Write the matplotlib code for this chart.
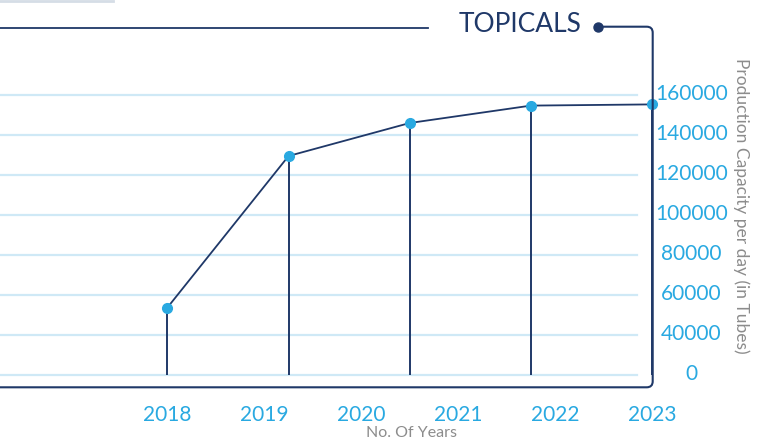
import matplotlib
matplotlib.use("Agg")
import matplotlib.pyplot as plt
from matplotlib.path import Path
from matplotlib.patches import PathPatch
from matplotlib.lines import Line2D
from matplotlib.transforms import ScaledTranslation

# ---- data ----
title = "TOPICALS"
year_labels = ["2018", "2019", "2020", "2021", "2022", "2023"]
point_values = [53700, 129500, 146000, 154700, 155300]
ytick_values = [20000, 40000, 60000, 80000, 100000, 120000, 140000, 160000]
ytick_labels = ["0", "40000", "60000", "80000", "100000", "120000", "140000", "160000"]
xlabel = "No. Of Years"
ylabel = "Production Capacity per day (in Tubes)"

NAVY = "#1f3868"
BLUE = "#29a9e1"
GRID = "#cfe9f6"
GRAY = "#8c8c8c"

plt.rcParams['font.family'] = ['Lato', 'DejaVu Sans']

W, H, DPI = 763, 441, 100
fig = plt.figure(figsize=(W / DPI, H / DPI), dpi=DPI)

ax_l, ax_r, ax_t, ax_b = 0.0, 652.7, 26.7, 387.3
ax = fig.add_axes([ax_l / W, 1 - ax_b / H, (ax_r - ax_l) / W, (ax_b - ax_t) / H])
for s in ax.spines.values():
    s.set_visible(False)

n_pts = len(point_values)
point_x = [i / (n_pts - 1) for i in range(n_pts)]
n_yr = len(year_labels)
year_x = [j / (n_yr - 1) for j in range(n_yr)]

ax.set_xlim(-0.3454, 1.0014)
ax.set_ylim(13850, 194150)

# gridlines
for v in ytick_values:
    ax.axhline(v, xmin=0, xmax=637 / 652.7, color=GRID, lw=1.6, zorder=1)

# stems
ax.vlines(point_x, ytick_values[0], point_values, color=NAVY, lw=1.4, zorder=2)
# line
ax.plot(point_x, point_values, color=NAVY, lw=1.3, zorder=3, clip_on=False)
ax.plot(point_x, point_values, 'o', color=BLUE, ms=7, zorder=4, clip_on=False)

# ticks
ax.set_xticks(year_x, year_labels)
ax.tick_params(axis='x', length=0, pad=12.5, labelcolor=BLUE, labelsize=15)
ax.yaxis.tick_right()
ax.set_yticks(ytick_values, ytick_labels)
ax.tick_params(axis='y', length=0, pad=27.9, labelcolor=BLUE, labelsize=15)
for lab in ax.get_yticklabels():
    lab.set_horizontalalignment('center')

ax.set_xlabel(xlabel, color=GRAY, fontsize=11.5, va='center')
ax.xaxis.set_label_coords(411.5 / 652.7, (ax_b - 433.3) / (ax_b - ax_t))
ax.yaxis.set_label_position('right')
ax.set_ylabel(ylabel, color=GRAY, fontsize=12.5, rotation=-90, va='center', ha='center')
ax.yaxis.set_label_coords(741 / 652.7, (ax_b - 206) / (ax_b - ax_t))

# frame with rounded right corners
aw, ah = ax_r - ax_l, ax_b - ax_t
rx, ry = 6 / aw, 6 / ah
x_dot = 597.7 / aw
verts = [(0, 0), (1 - rx, 0), (1, 0), (1, ry), (1, 1 - ry), (1, 1), (1 - rx, 1), (x_dot, 1)]
codes = [Path.MOVETO, Path.LINETO, Path.CURVE3, Path.CURVE3, Path.LINETO,
         Path.CURVE3, Path.CURVE3, Path.LINETO]
ax.add_patch(PathPatch(Path(verts, codes), transform=ax.transAxes, fill=False,
                       edgecolor=NAVY, lw=1.5, clip_on=False, zorder=5))
ax.plot([x_dot], [1], 'o', color=NAVY, ms=6.5, transform=ax.transAxes, clip_on=False, zorder=6)

# title and decorative lines
ax.text(581.7 / aw, (ax_b - 25) / ah, title, transform=ax.transAxes, ha='right', va='center',
        color=NAVY, fontsize=19)
ax.add_line(Line2D([0, 428 / aw], [(ax_b - 28.3) / ah] * 2, transform=ax.transAxes,
                   color=NAVY, lw=1.3, clip_on=False))
fig.add_artist(Line2D([0, 113 / W], [1 - 1.0 / H] * 2, transform=fig.transFigure,
                      color="#d5dde6", lw=2))

fig.canvas.draw()
for lab in ax.get_yticklabels():
    lab.set_transform(lab.get_transform() + ScaledTranslation(0, 2.5 / DPI, fig.dpi_scale_trans))

fig.savefig("out.png", dpi=DPI)
